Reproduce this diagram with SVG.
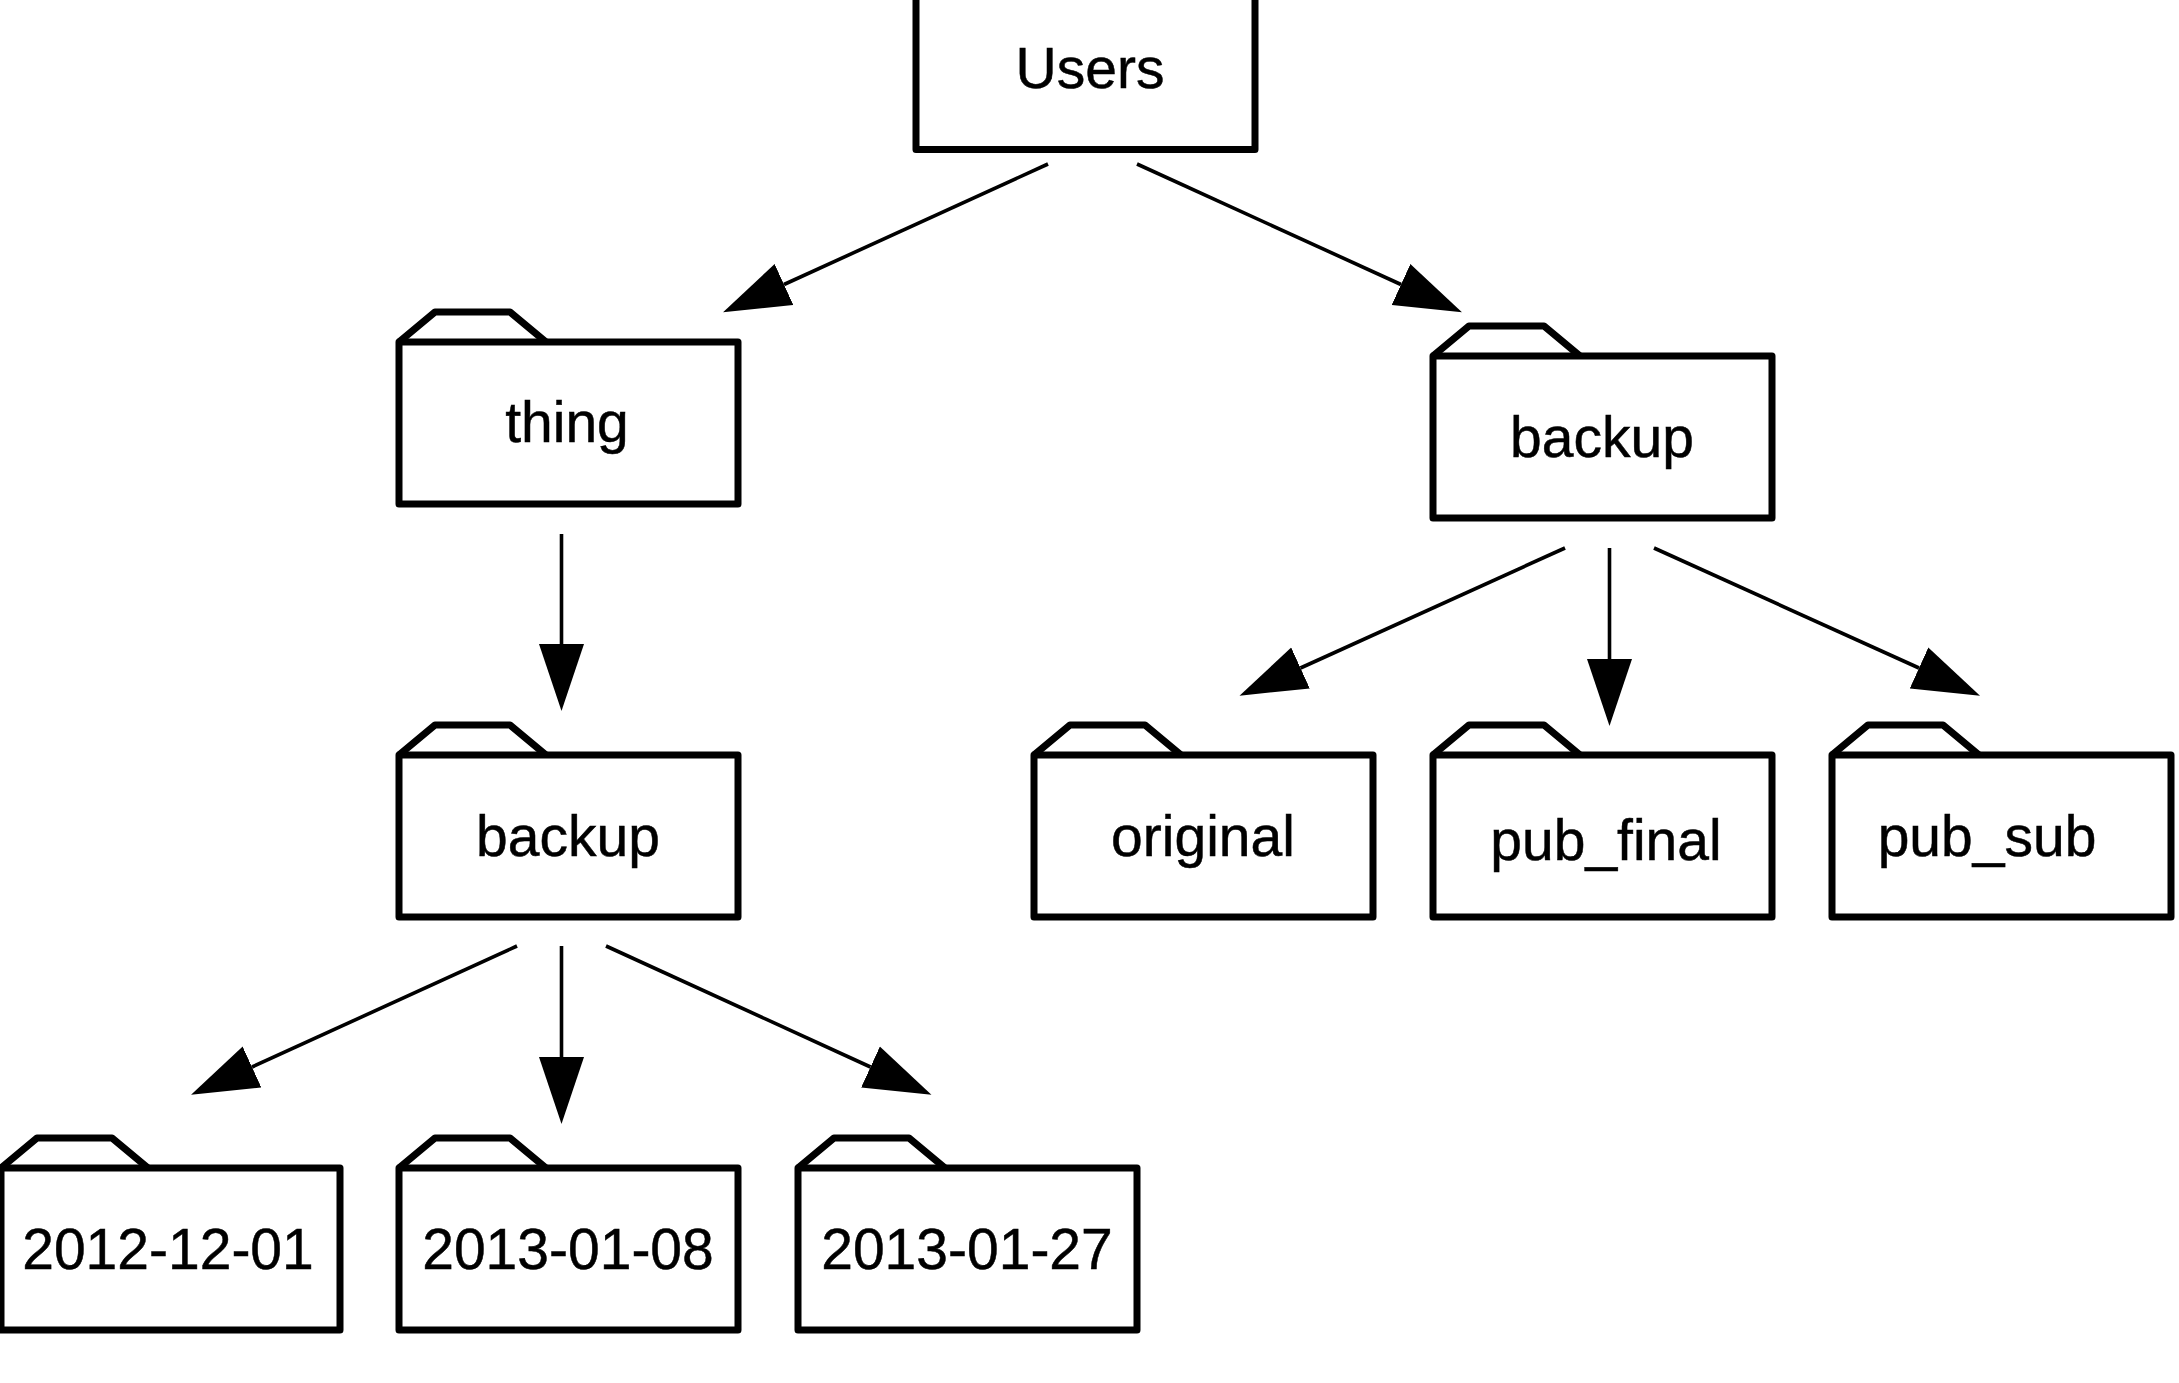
<svg xmlns="http://www.w3.org/2000/svg" width="2179" height="1383" viewBox="0 0 2179 1383">
<style>
.box{fill:#fff;stroke:#000;stroke-width:7;stroke-linejoin:round}
.tab{fill:#fff;stroke:#000;stroke-width:7;stroke-linejoin:round}
.lbl{font-family:"Liberation Sans",Arial,sans-serif;font-size:57px;fill:#000;stroke:#000;stroke-width:.5;text-anchor:middle}
.edge{stroke:#000;stroke-width:3.6;fill:none;marker-end:url(#head)}
</style>
<defs>
<marker id="head" markerUnits="userSpaceOnUse" markerWidth="67" markerHeight="46" viewBox="0 -23 67 46" refX="0" refY="0" orient="auto"><path d="M0-22.500L67 0L0 22.500Z" fill="#000"/></marker>
<g id="folder"><path class="tab" d="M3 33L39 3H114L150 33"/><rect class="box" x="3" y="33" width="339" height="162"/></g>
</defs>
<rect width="2179" height="1383" fill="#fff"/>
<g id="connectors">
<line class="edge" x1="1048" y1="164" x2="784" y2="284.500"/>
<line class="edge" x1="1137" y1="164" x2="1401" y2="284.500"/>
<line class="edge" x1="561.500" y1="534" x2="561.500" y2="644"/>
<line class="edge" x1="1565" y1="548" x2="1300.500" y2="668"/>
<line class="edge" x1="1609.500" y1="548" x2="1609.500" y2="659"/>
<line class="edge" x1="1654" y1="548" x2="1919" y2="668"/>
<line class="edge" x1="517" y1="946" x2="252" y2="1067"/>
<line class="edge" x1="561.500" y1="946" x2="561.500" y2="1057"/>
<line class="edge" x1="606" y1="946" x2="870.500" y2="1067"/>
</g>
<g id="users"><rect class="box" x="916" y="-30" width="339" height="179.500"/><text class="lbl" x="1090" y="88">Users</text></g>
<g id="thing"><use href="#folder" x="396" y="309"/><text class="lbl" x="567" y="442">thing</text></g>
<g id="backup-right"><use href="#folder" x="1430" y="323"/><text class="lbl" x="1602" y="456.500">backup</text></g>
<g id="backup-left"><use href="#folder" x="396" y="722"/><text class="lbl" x="568" y="855.500">backup</text></g>
<g id="original"><use href="#folder" x="1031" y="722"/><text class="lbl" x="1203" y="855.500">original</text></g>
<g id="pub_final"><use href="#folder" x="1430" y="722"/><text class="lbl" x="1606" y="860">pub_final</text></g>
<g id="pub_sub"><use href="#folder" x="1829" y="722"/><text class="lbl" x="1987" y="855.500">pub_sub</text></g>
<g id="d2012-12-01"><use href="#folder" x="-2" y="1135"/><text class="lbl" x="168" y="1269">2012-12-01</text></g>
<g id="d2013-01-08"><use href="#folder" x="396" y="1135"/><text class="lbl" x="568" y="1269">2013-01-08</text></g>
<g id="d2013-01-27"><use href="#folder" x="795" y="1135"/><text class="lbl" x="967" y="1269">2013-01-27</text></g>
</svg>
